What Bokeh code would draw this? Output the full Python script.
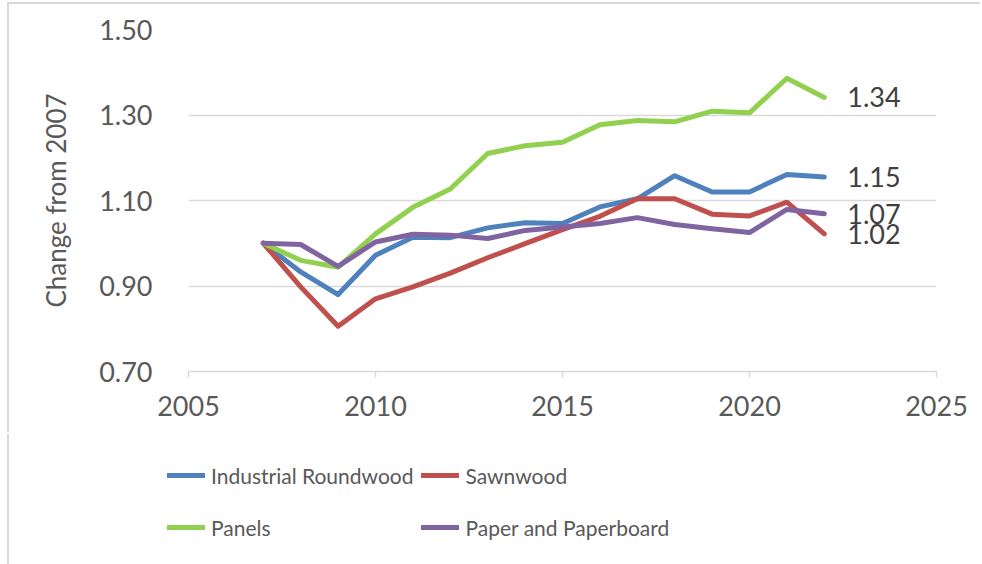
from bokeh.plotting import figure
from bokeh.models import ColumnDataSource, Legend, LegendItem, FixedTicker, NumeralTickFormatter, Range1d
from bokeh.core.properties import value
from bokeh.embed import file_html
from bokeh.resources import INLINE

years = list(range(2007, 2023))
industrial_roundwood = [1.00, 0.933, 0.880, 0.972, 1.014, 1.013, 1.036, 1.048, 1.046, 1.085, 1.104, 1.158, 1.120, 1.120, 1.161, 1.155]
sawnwood = [1.00, 0.898, 0.806, 0.870, 0.898, 0.930, 0.966, 0.999, 1.032, 1.063, 1.104, 1.104, 1.068, 1.064, 1.096, 1.022]
panels = [1.00, 0.960, 0.944, 1.022, 1.084, 1.127, 1.210, 1.228, 1.236, 1.277, 1.287, 1.284, 1.309, 1.305, 1.386, 1.341]
paper = [1.00, 0.997, 0.946, 1.003, 1.021, 1.019, 1.011, 1.030, 1.038, 1.046, 1.060, 1.044, 1.034, 1.025, 1.079, 1.069]
end_labels = ["1.15", "1.02", "1.34", "1.07"]

series = [
    ("Industrial Roundwood", industrial_roundwood, "#4F81BD"),
    ("Sawnwood", sawnwood, "#C0504D"),
    ("Panels", panels, "#92D050"),
    ("Paper and Paperboard", paper, "#8064A2"),
]

FONT = "Lato"
GREY = "#595959"

p = figure(width=973, height=430, output_backend="svg", toolbar_location=None,
           x_range=Range1d(2005, 2025), y_range=Range1d(0.70, 1.50),
           min_border_left=179, min_border_right=46, min_border_top=25, min_border_bottom=63)
p.margin = (4, 0, 0, 9)
p.styles = {"box-shadow": "-2px -2px 0 0 #d9d9d9"}
p.outline_line_color = None
p.background_fill_color = "white"
p.border_fill_color = "white"

p.xgrid.grid_line_color = None
p.ygrid.grid_line_color = "#d9d9d9"
p.ygrid.grid_line_width = 1.5

p.xaxis.ticker = FixedTicker(ticks=[2005, 2010, 2015, 2020, 2025])
p.yaxis.ticker = FixedTicker(ticks=[0.70, 0.90, 1.10, 1.30, 1.50])
p.yaxis.formatter = NumeralTickFormatter(format="0.00")

for ax in (p.xaxis[0], p.yaxis[0]):
    ax.major_label_text_font = FONT
    ax.major_label_text_font_size = "27px"
    ax.major_label_text_color = GREY
    ax.minor_tick_line_color = None

p.xaxis.axis_line_color = "#d9d9d9"
p.xaxis.axis_line_width = 1.5
p.xaxis.major_tick_line_color = "#d9d9d9"
p.xaxis.major_tick_line_width = 1.5
p.xaxis.major_tick_in = 0
p.xaxis.major_tick_out = 6
p.xaxis.major_label_standoff = 18

p.yaxis.axis_line_color = None
p.yaxis.major_tick_line_color = None
p.yaxis.major_label_standoff = 30
p.yaxis.axis_label = "Change from 2007"
p.yaxis.axis_label_text_font = FONT
p.yaxis.axis_label_text_font_size = "26px"
p.yaxis.axis_label_text_font_style = "normal"
p.yaxis.axis_label_text_color = GREY
p.yaxis.axis_label_standoff = 24

for name, vals, color in series:
    p.line(years, vals, line_color=color, line_width=5, line_join="round", line_cap="round")

src = ColumnDataSource(dict(x=[years[-1]] * 4, y=[s[1][-1] for s in series], t=end_labels))
p.text(x="x", y="y", text="t", source=src, x_offset=23, text_baseline="middle",
       text_font=value(FONT), text_font_size="27px", text_color="#404040")

# legend panel (proxy renderers sit outside its visible range)
lg = figure(width=973, height=130, output_backend="svg", toolbar_location=None,
            x_range=Range1d(0, 1), y_range=Range1d(100, 101),
            min_border=0, x_axis_type=None, y_axis_type=None)
lg.margin = (0, 0, 0, 9)
lg.styles = {"box-shadow": "-2px 0 0 0 #d9d9d9"}
lg.outline_line_color = None
lg.xgrid.grid_line_color = None
lg.ygrid.grid_line_color = None
items = []
for name, vals, color in series:
    r = lg.line(years, vals, line_color=color, line_width=5, line_cap="round")
    items.append(LegendItem(label=name, renderers=[r]))

legend = Legend(items=items, location=(158, 15), ncols=2, orientation="horizontal",
                label_text_font=FONT, label_text_font_size="21px", label_text_color=GREY,
                glyph_width=38, glyph_height=44, label_height=44, label_standoff=6, spacing=8,
                padding=0, margin=0, border_line_color=None, background_fill_alpha=0)
lg.add_layout(legend, "center")

open("out.html", "w").write(file_html([p, lg], INLINE))
